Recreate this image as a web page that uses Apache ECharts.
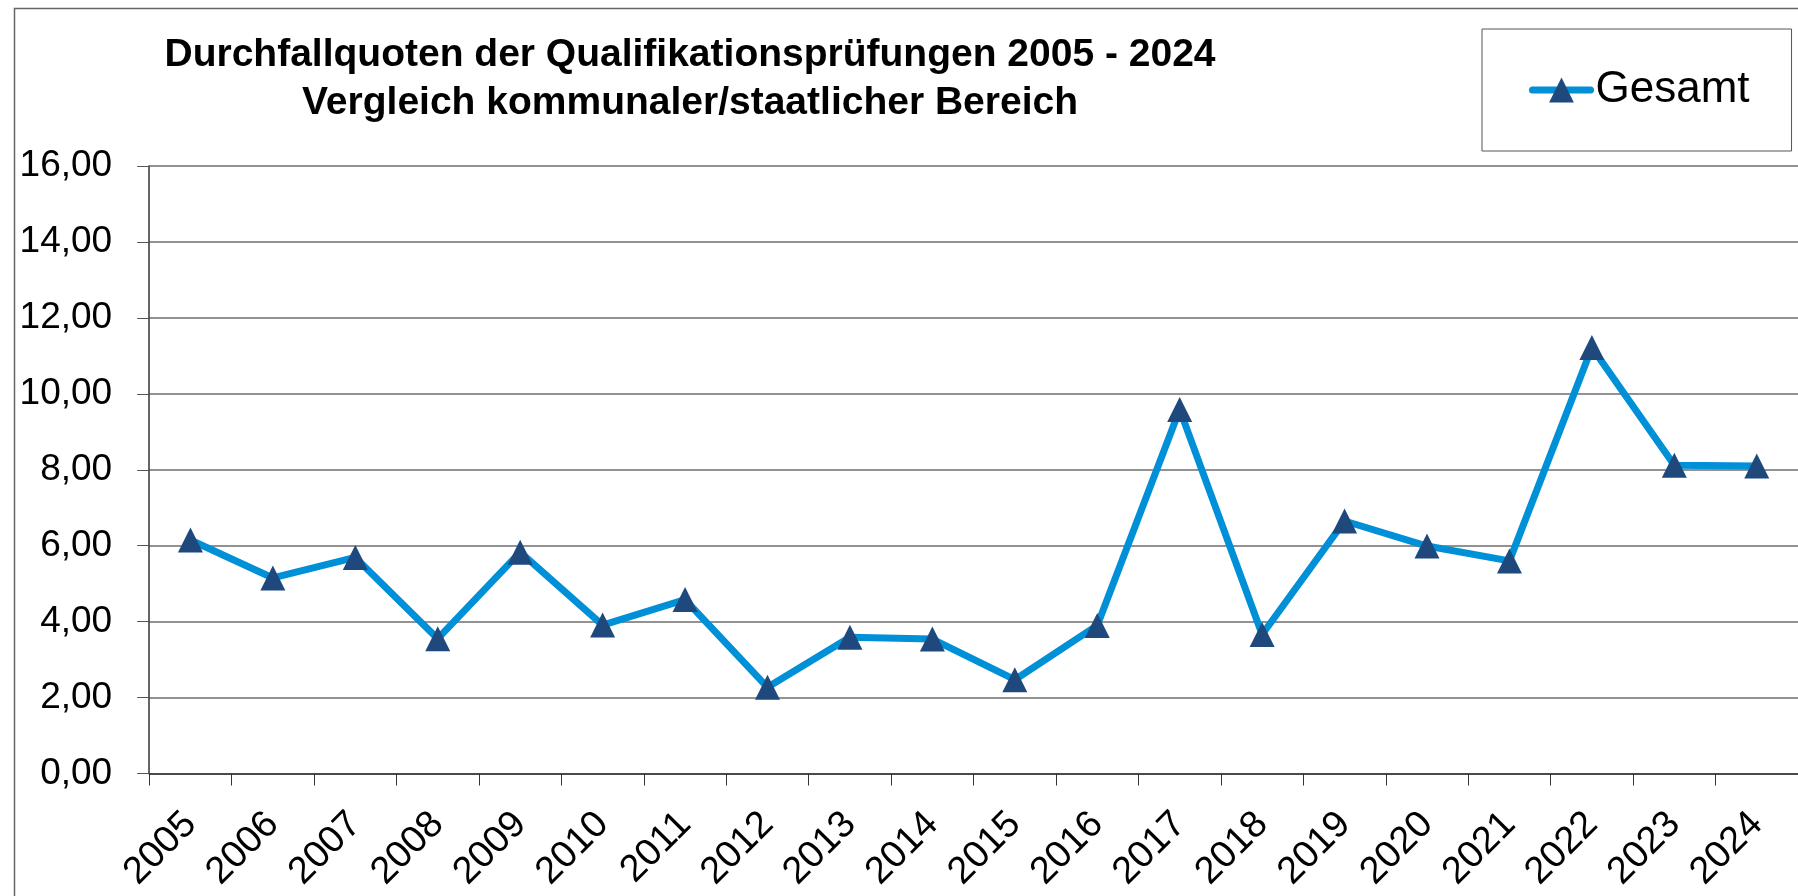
<!DOCTYPE html>
<html>
<head>
<meta charset="utf-8">
<script src="https://cdn.jsdelivr.net/npm/echarts@6/dist/echarts.min.js"></script>
<style>
html,body{margin:0;padding:0;background:#fff;}
#chart{width:1798px;height:896px;}
</style>
</head>
<body>
<div id="chart"></div>
<script>
const titleLines = ['Durchfallquoten der Qualifikationsprüfungen 2005 - 2024', 'Vergleich kommunaler/staatlicher Bereich'];
const seriesName = 'Gesamt';
const years = ['2005','2006','2007','2008','2009','2010','2011','2012','2013','2014','2015','2016','2017','2018','2019','2020','2021','2022','2023','2024'];
const gesamt = [6.15, 5.15, 5.69, 3.55, 5.83, 3.91, 4.58, 2.27, 3.59, 3.54, 2.47, 3.90, 9.59, 3.66, 6.65, 5.99, 5.60, 11.22, 8.12, 8.10];
const yTickLabels = ['0,00','2,00','4,00','6,00','8,00','10,00','12,00','14,00','16,00'];

const FONT = '"Liberation Sans", Arial, sans-serif';
const chart = echarts.init(document.getElementById('chart'), null, {renderer: 'canvas'});
chart.setOption({
  animation: false,
  backgroundColor: '#ffffff',
  graphic: [{
    type: 'rect', left: 12, top: 6, z: -1,
    shape: {x: 0, y: 0, width: 1800, height: 900},
    style: {fill: 'none', stroke: '#666', lineWidth: 1.5}
  }],
  title: {
    text: titleLines.join('\n'),
    left: 690, top: 31, padding: 0, textAlign: 'center',
    textStyle: {fontFamily: FONT, fontSize: 39, fontWeight: 'bold', color: '#000', lineHeight: 48}
  },
  legend: {
    left: 1482, top: 29,
    padding: [39, 42, 39, 47],
    borderColor: '#555', borderWidth: 1,
    itemWidth: 58, itemHeight: 31,
    lineStyle: {width: 7, cap: 'round'},
    textStyle: {fontFamily: FONT, fontSize: 44, color: '#000', lineHeight: 44},
    data: [seriesName]
  },
  grid: {left: 149.2, right: -3.6, top: 166, bottom: 122.5, containLabel: false},
  xAxis: {
    type: 'category', data: years, boundaryGap: true,
    axisLine: {lineStyle: {color: '#333', width: 1.5}},
    axisTick: {show: true, length: 12, inside: false, alignWithLabel: false, lineStyle: {color: '#333', width: 1}},
    axisLabel: {rotate: 45, margin: 45, fontFamily: FONT, fontSize: 38, color: '#000', interval: 0}
  },
  yAxis: {
    type: 'value', min: 0, max: 16, interval: 2,
    axisLine: {show: true, lineStyle: {color: '#333', width: 1.5}},
    axisTick: {show: true, length: 12, lineStyle: {color: '#555', width: 1}},
    axisLabel: {margin: 37, fontFamily: FONT, fontSize: 37, color: '#000',
      formatter: (v) => yTickLabels[Math.round(v / 2)]},
    splitLine: {show: true, lineStyle: {color: '#6e6e6e', width: 1.5}}
  },
  series: [{
    name: seriesName, type: 'line', data: gesamt,
    symbol: 'triangle', symbolSize: 25,
    lineStyle: {color: '#0090d8', width: 7, join: 'round', cap: 'round'},
    itemStyle: {color: '#1f497d', borderWidth: 0},
    z: 3
  }]
});
</script>
</body>
</html>
